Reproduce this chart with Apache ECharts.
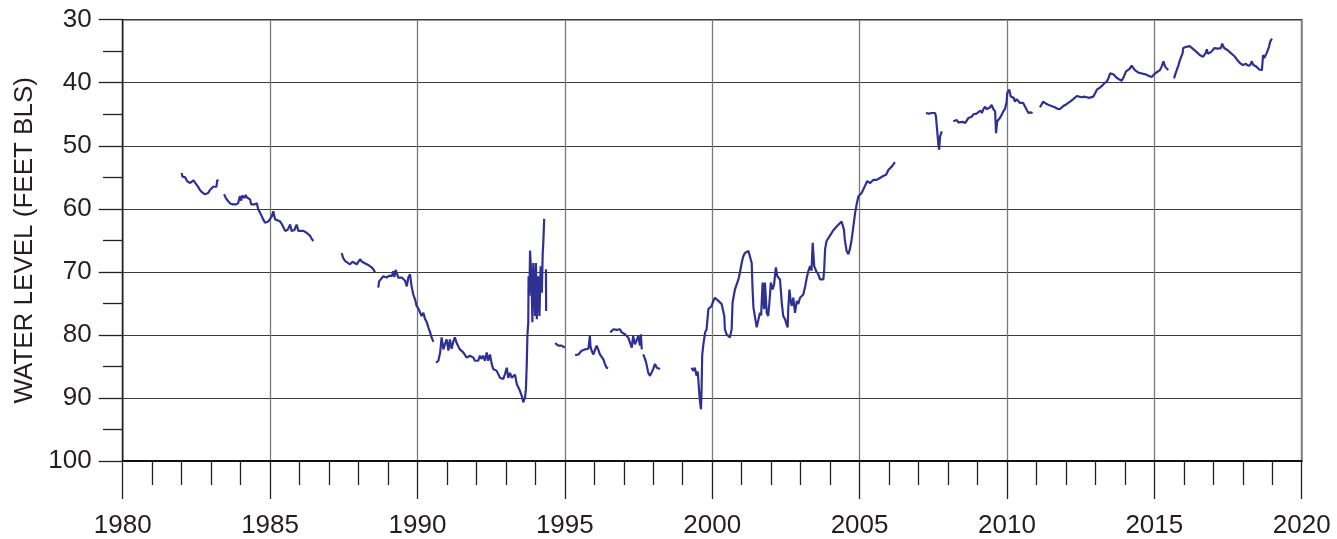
<!DOCTYPE html>
<html>
<head>
<meta charset="utf-8">
<script src="https://cdn.jsdelivr.net/npm/echarts@6/dist/echarts.min.js"></script>
<style>
html,body{margin:0;padding:0;background:#fff;}
#chart{width:1337px;height:539px;}
</style>
</head>
<body>
<div id="chart"></div>
<script>
// Decimal years and water levels (feet below land surface); null marks a gap in the record
const years = [
  1982.00,1982.03,1982.06,1982.12,1982.18,1982.23,1982.29,1982.34,1982.40,1982.45,1982.51,1982.57,1982.62,1982.70,1982.79,1982.85,1982.90,1982.96,1983.02,1983.07,1983.13,1983.18,1983.21,1983.24,
  null,
  1983.44,1983.50,1983.58,1983.66,1983.75,1983.85,1983.92,1983.95,1983.98,1984.02,1984.05,1984.09,1984.13,1984.17,1984.22,1984.28,1984.32,1984.36,1984.41,1984.47,1984.55,1984.60,1984.66,1984.72,1984.78,1984.83,1984.94,1985.00,1985.06,1985.11,1985.17,1985.25,1985.34,1985.42,1985.51,1985.60,1985.68,1985.73,1985.82,1985.90,1985.96,1986.05,1986.13,1986.24,1986.36,1986.42,1986.47,
  null,
  1987.43,1987.48,1987.55,1987.60,1987.71,1987.80,1987.86,1987.94,1988.05,1988.12,1988.17,1988.28,1988.36,1988.45,1988.52,1988.56,
  null,
  1988.67,1988.70,1988.73,1988.84,1988.95,1989.05,1989.13,1989.18,1989.22,1989.26,1989.30,1989.35,1989.41,1989.47,1989.52,1989.58,1989.64,1989.69,1989.75,1989.80,1989.86,1989.92,1989.97,1990.03,1990.08,1990.14,1990.20,1990.26,1990.31,1990.37,1990.43,1990.48,1990.54,
  null,
  1990.63,1990.71,1990.77,1990.82,1990.88,1990.93,1990.99,1991.05,1991.10,1991.16,1991.22,1991.27,1991.33,1991.38,1991.44,1991.50,1991.56,1991.61,1991.67,1991.73,1991.78,1991.84,1991.90,1991.95,1992.01,1992.06,1992.12,1992.17,1992.23,1992.29,1992.35,1992.40,1992.46,1992.52,1992.57,1992.63,1992.69,1992.75,1992.80,1992.86,1992.91,1992.97,1993.03,1993.08,1993.14,1993.20,1993.25,1993.31,1993.37,1993.42,1993.48,1993.54,1993.59,1993.63,1993.65,1993.68,1993.71,1993.73,1993.76,1993.77,1993.80,1993.82,1993.84,1993.87,1993.90,1993.93,1993.96,1993.99,1994.02,1994.05,1994.10,1994.14,1994.18,1994.22,1994.25,1994.27,1994.30,
  null,
  1994.36,1994.365,
  null,
  1994.67,1994.72,1994.78,1994.84,1994.89,1994.95,1995.00,
  null,
  1995.35,1995.40,1995.46,1995.52,1995.57,1995.63,1995.68,1995.74,1995.80,1995.85,1995.87,1995.91,1995.97,1996.03,1996.08,1996.14,1996.19,1996.25,1996.31,1996.36,1996.42,1996.47,
  null,
  1996.54,1996.60,1996.65,1996.70,1996.76,1996.81,1996.87,1996.93,1996.98,1997.04,1997.10,1997.15,1997.21,1997.27,1997.32,1997.38,1997.44,1997.49,1997.55,1997.58,1997.61,
  null,
  1997.66,1997.72,1997.76,1997.83,1997.89,1997.95,1998.00,1998.06,1998.12,1998.17,1998.23,
  null,
  1999.30,1999.36,1999.41,1999.47,1999.51,1999.56,1999.59,1999.62,1999.64,1999.66,1999.70,1999.76,1999.81,1999.87,1999.98,2000.04,2000.09,2000.15,2000.21,2000.27,2000.32,2000.37,2000.41,2000.43,2000.49,2000.55,2000.60,2000.66,2000.69,2000.77,2000.83,2000.89,2000.94,2001.00,2001.05,2001.11,2001.17,2001.23,2001.28,2001.34,2001.37,2001.40,2001.45,2001.51,2001.56,2001.62,2001.66,2001.71,2001.76,2001.79,2001.85,2001.90,2001.94,2001.99,2002.05,2002.10,2002.16,2002.21,2002.25,2002.30,2002.36,2002.41,2002.47,2002.52,2002.56,2002.58,2002.62,2002.66,2002.70,2002.75,2002.81,2002.87,2002.92,2002.98,2003.04,2003.09,2003.15,2003.21,2003.26,2003.32,2003.37,2003.41,2003.46,2003.53,2003.60,2003.66,2003.72,2003.77,2003.80,2003.83,2003.88,2004.00,2004.11,2004.22,2004.28,2004.39,2004.45,2004.47,2004.50,2004.56,2004.62,2004.67,2004.73,2004.79,2004.85,2004.90,2004.96,2005.07,2005.18,2005.26,2005.36,2005.47,2005.58,2005.69,2005.80,2005.90,2005.98,2006.09,2006.20,
  null,
  2007.25,2007.30,2007.35,2007.45,2007.56,2007.59,2007.64,2007.68,2007.70,2007.73,2007.79,
  null,
  2008.18,2008.24,2008.30,2008.35,2008.41,2008.50,2008.58,2008.64,2008.69,2008.75,2008.80,2008.86,2008.92,2008.97,2009.03,2009.10,2009.15,2009.20,2009.26,2009.31,2009.37,2009.43,2009.48,2009.54,2009.60,2009.63,2009.67,2009.72,2009.76,2009.82,2009.87,2009.93,2009.99,2010.01,2010.05,2010.08,2010.13,2010.19,2010.23,2010.27,2010.33,2010.38,2010.44,2010.50,2010.55,2010.61,2010.67,2010.73,2010.80,2010.87,
  null,
  2011.12,2011.18,2011.23,2011.32,2011.40,2011.51,2011.62,2011.70,2011.79,2011.85,2011.91,2012.02,2012.14,2012.25,2012.37,2012.45,2012.54,2012.62,2012.71,2012.78,2012.84,2012.93,2013.00,2013.05,2013.14,2013.22,2013.30,2013.39,2013.45,2013.50,2013.56,2013.62,2013.67,2013.72,2013.78,2013.89,2013.97,2014.04,2014.10,2014.16,2014.23,2014.28,2014.34,2014.40,2014.46,2014.55,2014.63,2014.72,2014.80,2014.91,2014.97,2015.03,2015.08,2015.19,2015.25,2015.31,2015.36,2015.42,2015.47,
  null,
  2015.67,2015.70,2015.76,2015.82,2015.87,2015.91,2015.96,2015.98,2016.03,2016.09,2016.15,2016.20,2016.26,2016.35,2016.43,2016.54,2016.65,2016.70,2016.74,2016.78,2016.82,2016.88,2016.93,2017.04,2017.10,2017.15,2017.21,2017.26,2017.30,2017.37,2017.48,2017.55,2017.61,2017.72,2017.80,2017.89,2018.00,2018.05,2018.11,2018.18,2018.25,2018.31,2018.36,2018.45,2018.50,2018.56,2018.60,2018.65,2018.69,2018.73,2018.81,2018.86,2018.89,2018.93,2018.99
];
const levels = [
  54.3,54.9,55.1,55.0,55.6,55.5,55.9,55.7,55.5,55.6,56.2,56.6,57.0,57.4,57.7,57.4,57.5,57.0,57.2,56.5,56.2,56.5,55.4,55.6,
  null,
  57.7,58.3,58.8,59.2,59.3,59.3,59.1,58.4,58.0,58.7,57.9,57.7,58.3,57.8,58.2,58.3,58.5,59.3,59.6,59.3,59.1,60.1,60.6,61.2,61.8,62.2,62.0,61.6,61.2,60.4,61.7,61.8,62.0,62.6,63.5,63.3,62.5,63.5,63.4,62.5,63.5,63.5,63.5,63.8,64.3,64.8,65.1,
  null,
  67.0,67.8,68.3,68.6,68.8,68.4,68.7,68.8,68.0,68.4,68.5,68.8,69.0,69.3,69.7,70.1,
  null,
  72.5,71.5,71.2,70.7,70.9,70.6,70.7,69.9,70.8,69.7,69.6,70.9,71.2,70.9,70.9,71.4,72.3,70.9,70.4,72.3,73.6,74.4,75.4,75.8,75.6,77.0,76.5,77.5,77.9,78.8,79.6,80.4,81.1,
  null,
  84.4,84.1,82.8,80.4,82.3,81.5,80.7,82.5,80.7,82.2,81.0,80.4,81.3,81.6,82.3,82.6,82.8,82.8,83.6,83.5,83.3,83.5,83.6,84.1,84.1,84.1,83.3,83.8,83.3,84.1,82.8,84.1,83.1,84.6,85.4,85.5,85.7,86.3,86.8,86.9,87.0,86.2,85.2,86.8,86.0,86.8,86.5,86.3,87.8,88.3,88.9,89.7,90.7,91.0,89.9,88.6,84.4,80.2,78.0,70.7,73.8,66.6,66.4,71.2,78.0,68.6,72.0,77.0,68.6,77.5,70.7,77.0,69.1,73.3,67.0,65.4,61.6,
  null,
  69.6,76.2,
  null,
  81.3,81.6,81.7,81.6,81.7,81.9,82.0,
  null,
  83.2,83.0,83.1,82.8,82.5,82.7,82.3,82.0,82.2,80.2,81.8,82.5,83.1,82.3,81.7,82.4,83.1,83.5,83.9,84.6,85.2,85.3,
  null,
  79.6,79.4,79.1,78.8,79.2,79.4,79.1,79.6,79.7,79.9,79.7,80.4,80.2,82.0,80.2,81.5,81.8,80.2,81.7,79.9,82.3,
  null,
  83.1,83.8,84.4,86.0,86.5,86.4,85.4,84.6,85.2,84.9,85.4,
  null,
  85.2,85.7,85.2,86.5,85.8,89.1,90.7,91.8,88.6,83.3,81.5,79.6,79.1,75.9,75.4,74.6,74.1,74.4,74.6,74.7,75.1,75.3,77.0,79.1,79.9,80.2,80.4,79.1,74.9,72.8,72.0,71.2,70.1,68.6,67.6,67.0,66.8,66.7,67.0,68.6,72.8,75.7,75.8,78.8,78.5,76.5,76.9,71.7,75.9,71.7,76.5,77.0,74.9,71.7,72.8,72.0,69.3,70.7,70.4,71.2,74.9,77.0,77.5,78.3,78.8,75.9,72.8,74.6,75.4,74.1,76.5,74.6,75.1,74.1,73.9,73.6,72.4,70.9,69.9,69.1,69.8,65.4,69.1,69.9,70.4,71.2,71.0,71.2,69.6,66.4,65.1,64.2,63.4,62.8,62.5,62.0,61.8,63.3,64.9,66.7,67.2,66.4,64.9,62.8,60.6,59.3,58.0,57.5,56.4,55.6,55.9,55.4,55.4,55.1,54.8,54.6,53.8,53.3,52.6,
  null,
  44.8,45.1,44.9,44.8,44.8,45.3,48.0,50.1,50.6,48.5,47.7,
  null,
  46.1,45.8,45.9,46.3,46.4,46.2,46.4,46.4,45.6,45.6,45.4,45.0,44.8,44.9,44.6,44.4,44.8,44.2,43.8,44.2,44.0,43.9,43.5,44.2,44.6,48.0,46.1,45.8,45.6,45.1,44.6,44.2,43.0,41.6,41.9,41.1,42.2,41.9,42.4,43.0,42.6,42.9,43.2,43.2,43.2,43.4,44.3,44.8,44.7,44.8,
  null,
  43.9,43.4,43.0,43.3,43.5,43.7,43.9,44.1,44.2,44.0,43.7,43.4,43.0,42.6,42.1,42.2,42.3,42.2,42.3,42.4,42.6,42.2,41.6,41.1,40.8,40.5,40.1,39.8,39.2,38.5,38.4,38.7,38.9,39.2,39.4,39.7,39.0,38.2,38.2,37.8,37.3,37.6,38.0,38.2,38.4,38.5,38.6,38.7,38.9,39.1,38.8,38.5,38.2,38.0,37.4,36.6,37.4,37.7,38.0,
  null,
  39.3,38.8,38.0,37.2,36.4,36.6,35.3,34.5,34.7,34.3,34.0,34.2,34.5,34.8,35.1,35.6,35.9,35.7,35.3,34.7,35.4,35.3,35.1,34.5,34.3,34.6,34.7,34.5,33.8,34.5,34.8,35.1,35.4,35.8,36.3,36.8,37.2,37.1,37.0,37.3,37.2,36.6,37.2,37.4,37.6,37.9,37.6,38.0,35.6,36.1,35.3,35.1,34.3,33.5,33.0
];
const xTicks = { min: 1980, max: 2020, step: 5 };
const yTicks = { min: 30, max: 100, step: 10 };
const yTitle = 'WATER LEVEL (FEET BLS)';

const seriesData = years.map((x, i) => (x === null || levels[i] === null) ? ['-', '-'] : [x, levels[i]]);

const font = 'Liberation Sans, Arial, sans-serif';
const chart = echarts.init(document.getElementById('chart'), null, { renderer: 'canvas' });
chart.setOption({
  animation: false,
  backgroundColor: '#ffffff',
  grid: { left: 122.7, right: 35.3, top: 19.7, bottom: 77, show: true, borderColor: '#333', borderWidth: 1.5, backgroundColor: 'transparent' },
  xAxis: {
    type: 'value', min: xTicks.min, max: xTicks.max, interval: xTicks.step,
    axisLine: { show: true, onZero: false, lineStyle: { color: '#111', width: 2 } },
    axisTick: { show: true, inside: false, length: 38, lineStyle: { color: '#222', width: 1.3 } },
    minorTick: { show: true, splitNumber: 5, length: 24, lineStyle: { color: '#222', width: 1.3 } },
    splitLine: { show: true, lineStyle: { color: '#7a7a7a', width: 1.3 } },
    axisLabel: { fontSize: 26, color: '#231f20', margin: 52, fontFamily: font, formatter: v => String(v) }
  },
  yAxis: {
    type: 'value', inverse: true, min: yTicks.min, max: yTicks.max, interval: yTicks.step,
    name: yTitle, nameLocation: 'middle', nameGap: 82,
    nameTextStyle: { fontSize: 26, color: '#231f20', fontFamily: font },
    axisLine: { show: true, lineStyle: { color: '#222', width: 1.3 } },
    axisTick: { show: true, inside: false, length: 24, lineStyle: { color: '#222', width: 1.3 } },
    minorTick: { show: true, splitNumber: 2, length: 19.7, lineStyle: { color: '#222', width: 1.3 } },
    splitLine: { show: true, lineStyle: { color: '#3a3a3a', width: 1.2 } },
    axisLabel: { fontSize: 26, color: '#231f20', margin: 31, fontFamily: font, formatter: v => String(v) }
  },
  series: [{
    type: 'line', data: seriesData, showSymbol: false, connectNulls: false,
    lineStyle: { color: '#2e3192', width: 2.2 }, z: 5
  }]
});
</script>
</body>
</html>
